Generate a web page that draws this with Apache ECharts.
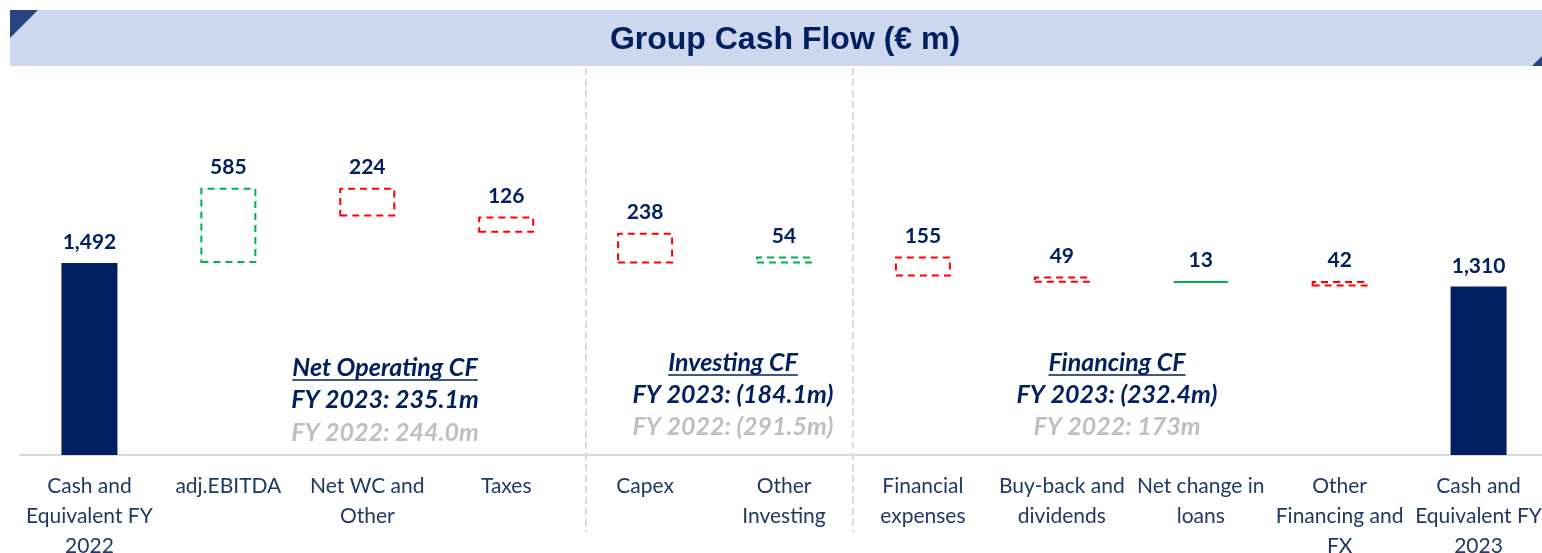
<!DOCTYPE html>
<html><head><meta charset="utf-8">
<script src="https://cdn.jsdelivr.net/npm/echarts@6/dist/echarts.min.js"></script>
<style>html,body{margin:0;padding:0;background:#fff}#c{width:1542px;height:553px}</style>
</head><body><div id="c"></div>
<script>
// ---- data ----
const categories = ['Cash and\nEquivalent FY\n2022', 'adj.EBITDA', 'Net WC and\nOther', 'Taxes', 'Capex', 'Other\nInvesting', 'Financial\nexpenses', 'Buy-back and\ndividends', 'Net change in\nloans', 'Other\nFinancing and\nFX', 'Cash and\nEquivalent FY\n2023'];
const values = [1492, 585, -224, -126, -238, 54, -155, -49, 13, -42, 1310];
const isTotal = [true, false, false, false, false, false, false, false, false, false, true];
const sectionTitles = ['Net Operating CF', 'Investing CF', 'Financing CF'];
const sectionFY2023 = ['FY 2023: 235.1m', 'FY 2023: (184.1m)', 'FY 2023: (232.4m)'];
const sectionFY2022 = ['FY 2022: 244.0m', 'FY 2022: (291.5m)', 'FY 2022: 173m'];
const titleText = 'Group Cash Flow (€ m)';

// ---- build waterfall ----
const NAVY = '#002060';
const base = [], vis = [];
let running = 0;
values.forEach((v, i) => {
  let b, h;
  if (isTotal[i]) { b = 0; h = v; running = v; }
  else if (v >= 0) { b = running; h = v; running += v; }
  else { running += v; b = running; h = -v; }
  base.push(b);
  let style;
  if (isTotal[i]) style = { color: NAVY, borderWidth: 0 };
  else style = { color: 'rgba(0,0,0,0)', borderColor: v >= 0 ? '#00b050' : '#ff0000', borderWidth: 2, borderType: [7, 5] };
  vis.push({ value: h, raw: v, itemStyle: style });
});

const chart = echarts.init(document.getElementById('c'), null, { renderer: 'canvas' });

const secX = [385, 733, 1117];
const secY = [[368, 400, 433], [363, 395, 427], [363, 395, 427]];
const secFont = 'italic bold 25px Lato';
const graphics = [
  { type: 'rect', shape: { x: 10, y: 10, width: 1532, height: 56 }, style: { fill: '#cdd7ee' }, z: 1 },
  { type: 'polygon', shape: { points: [[10, 10], [38, 10], [10, 38]] }, style: { fill: '#2a4480' }, z: 2 },
  { type: 'polygon', shape: { points: [[1532, 66], [1542, 56], [1542, 66]] }, style: { fill: '#2a4480' }, z: 2 },
  { type: 'text', x: 785, y: 40, style: { text: titleText, font: 'bold 32px "Liberation Sans", Arial', fill: NAVY, align: 'center', verticalAlign: 'middle' }, z: 3 },
  { type: 'line', shape: { x1: 586, y1: 68, x2: 586, y2: 532 }, style: { stroke: '#d9d9d9', lineWidth: 2, lineDash: [7, 4] }, z: 0 },
  { type: 'line', shape: { x1: 853, y1: 68, x2: 853, y2: 532 }, style: { stroke: '#d9d9d9', lineWidth: 2, lineDash: [7, 4] }, z: 0 }
];
sectionTitles.forEach((t, i) => {
  graphics.push({ type: 'text', x: secX[i], y: secY[i][0], style: { text: t, font: secFont, fill: NAVY, align: 'center', verticalAlign: 'middle' }, z: 5 });
  graphics.push({ type: 'text', x: secX[i], y: secY[i][1], style: { text: sectionFY2023[i], font: secFont, fill: NAVY, align: 'center', verticalAlign: 'middle' }, z: 5 });
  graphics.push({ type: 'text', x: secX[i], y: secY[i][2], style: { text: sectionFY2022[i], font: secFont, fill: '#bfbfbf', align: 'center', verticalAlign: 'middle' }, z: 5 });
});
// underlines for section titles (measured text width)
const ctx = document.createElement('canvas').getContext('2d');
ctx.font = secFont;
sectionTitles.forEach((t, i) => {
  const w = ctx.measureText(t).width;
  graphics.push({ type: 'line', shape: { x1: secX[i] - w / 2, y1: secY[i][0] + 12, x2: secX[i] + w / 2, y2: secY[i][0] + 12 }, style: { stroke: NAVY, lineWidth: 1.5 }, z: 5 });
});

chart.setOption({
  animation: false,
  grid: { left: 20, width: 1528, top: 69, bottom: 98, outerBoundsMode: 'none', containLabel: false },
  xAxis: {
    type: 'category', data: categories,
    axisLine: { lineStyle: { color: '#d9d9d9', width: 2 } },
    axisTick: { show: false },
    axisLabel: { interval: 0, color: '#1f3864', fontFamily: 'Lato', fontSize: 21, lineHeight: 30, margin: 16 }
  },
  yAxis: { type: 'value', min: 0, max: 3000, show: false, splitLine: { show: false } },
  series: [
    { type: 'bar', stack: 'wf', data: base, itemStyle: { color: 'rgba(0,0,0,0)' }, barWidth: 56, silent: true },
    { type: 'bar', stack: 'wf', data: vis, barWidth: 56,
      label: { show: true, position: 'top', distance: 10, color: NAVY, fontFamily: 'Lato', fontWeight: 'bold', fontSize: 21,
        formatter: p => Math.abs(p.data.raw).toLocaleString('en-US') } }
  ],
  graphic: graphics
});
</script></body></html>
